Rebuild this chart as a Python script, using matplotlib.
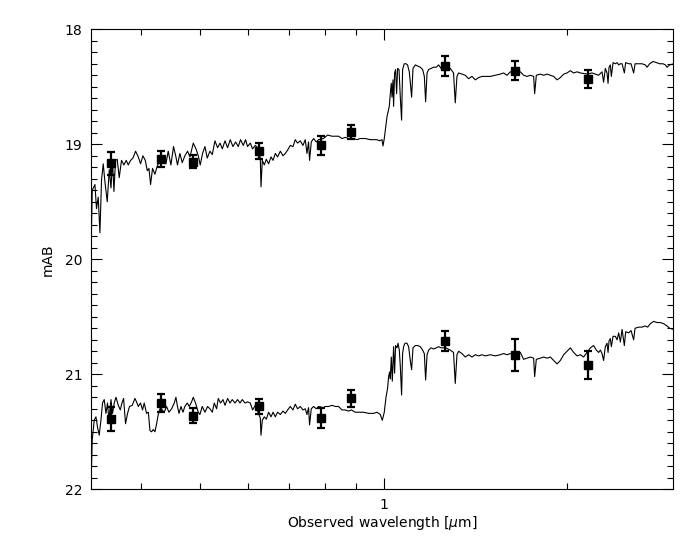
import matplotlib
matplotlib.use('Agg')
import matplotlib.pyplot as plt
from matplotlib.ticker import MultipleLocator, LogLocator, NullFormatter, FixedLocator, FixedFormatter

# Photometric points (wavelength in micron, AB mag, 1-sigma error)
phot_wl = [0.357, 0.431, 0.486, 0.625, 0.790, 0.885, 1.263, 1.645, 2.163]
top_phot = [19.165, 19.13, 19.15, 19.06, 19.01, 18.89, 18.32, 18.36, 18.43]
top_err = [0.10, 0.07, 0.06, 0.07, 0.08, 0.06, 0.09, 0.08, 0.08]
bot_phot = [21.39, 21.25, 21.36, 21.28, 21.38, 21.21, 20.71, 20.83, 20.92]
bot_err = [0.105, 0.075, 0.065, 0.065, 0.09, 0.075, 0.085, 0.14, 0.12]

# Best-fit template of the upper object
top_wl = [
    0.3308, 0.3324, 0.3358, 0.3378, 0.3400, 0.3422, 0.3443, 0.3465, 0.3488, 0.3518,
    0.3545, 0.3568, 0.3589, 0.3608, 0.3630, 0.3653, 0.3681, 0.3713, 0.3747, 0.3780,
    0.3809, 0.3843, 0.3877, 0.3916, 0.3956, 0.3990, 0.4026, 0.4062, 0.4093, 0.4119,
    0.4144, 0.4175, 0.4213, 0.4255, 0.4298, 0.4347, 0.4392, 0.4430, 0.4475, 0.4520,
    0.4561, 0.4588, 0.4630, 0.4671, 0.4718, 0.4766, 0.4809, 0.4870, 0.4920, 0.4963,
    0.5000, 0.5044, 0.5090, 0.5134, 0.5187, 0.5233, 0.5286, 0.5339, 0.5388, 0.5435,
    0.5491, 0.5545, 0.5601, 0.5658, 0.5715, 0.5773, 0.5823, 0.5883, 0.5935, 0.5979,
    0.6041, 0.6094, 0.6157, 0.6211, 0.6274, 0.6291, 0.6322, 0.6370, 0.6419, 0.6475,
    0.6534, 0.6584, 0.6641, 0.6699, 0.6768, 0.6837, 0.6897, 0.6958, 0.7028, 0.7100,
    0.7161, 0.7224, 0.7298, 0.7373, 0.7437, 0.7485, 0.7530, 0.7559, 0.7608, 0.7675,
    0.7753, 0.7821, 0.7970, 0.8091, 0.8228, 0.8332, 0.8435, 0.8545, 0.8651, 0.8760,
    0.8928, 0.9044, 0.9157, 0.9332, 0.9510, 0.9629, 0.9754, 0.9849, 0.9940, 0.9977,
    1.0026, 1.0091, 1.0130, 1.0168, 1.0218, 1.0257, 1.0295, 1.0323, 1.0362, 1.0385,
    1.0425, 1.0464, 1.0504, 1.0544, 1.0600, 1.0652, 1.0704, 1.0745, 1.0813, 1.0884,
    1.0949, 1.1020, 1.1062, 1.1117, 1.1176, 1.1275, 1.1373, 1.1489, 1.1590, 1.1665,
    1.1722, 1.1785, 1.1856, 1.1964, 1.2082, 1.2206, 1.2312, 1.2425, 1.2650, 1.2865,
    1.3026, 1.3111, 1.3196, 1.3278, 1.3448, 1.3618, 1.3789, 1.3968, 1.4144, 1.4322,
    1.4507, 1.4689, 1.4969, 1.5255, 1.5546, 1.5741, 1.5946, 1.6145, 1.6350, 1.6558,
    1.6769, 1.6980, 1.7200, 1.7416, 1.7634, 1.7701, 1.7813, 1.8086, 1.8313, 1.8550,
    1.8783, 1.9019, 1.9265, 1.9506, 1.9755, 2.0007, 2.0259, 2.0512, 2.0778, 2.1038,
    2.1600, 2.1987, 2.2262, 2.2542, 2.2835, 2.2972, 2.3121, 2.3271, 2.3362, 2.3449,
    2.3563, 2.3655, 2.3808, 2.4017, 2.4172, 2.4318, 2.4475, 2.4634, 2.4845, 2.4971,
    2.5254, 2.5482, 2.5735, 2.5872, 2.6224, 2.6564, 2.6897, 2.7071, 2.7340, 2.7695,
    2.8042, 2.8393, 2.8762, 2.9015, 2.9202, 2.9486, 2.9937,
]
top_mag = [
    19.98, 19.40, 19.35, 19.56, 19.46, 19.77, 19.31, 19.17, 19.33, 19.50,
    19.22, 19.38, 19.14, 19.41, 19.14, 19.13, 19.29, 19.14, 19.18, 19.14,
    19.18, 19.14, 19.12, 19.06, 19.11, 19.17, 19.10, 19.14, 19.23, 19.21,
    19.35, 19.21, 19.26, 19.18, 19.15, 19.13, 19.17, 19.06, 19.18, 19.02,
    19.11, 19.18, 19.08, 19.16, 19.10, 19.06, 19.11, 18.99, 19.04, 19.10,
    19.18, 19.08, 19.02, 19.12, 19.06, 19.09, 18.97, 19.03, 18.99, 19.04,
    18.97, 19.03, 18.96, 19.02, 18.98, 19.02, 18.96, 19.01, 18.96, 19.02,
    18.99, 19.04, 19.01, 19.03, 19.12, 19.37, 19.14, 19.18, 19.13, 19.17,
    19.11, 19.14, 19.08, 19.11, 19.06, 19.10, 19.08, 19.05, 19.01, 19.02,
    18.96, 18.99, 18.97, 19.01, 18.96, 19.08, 18.98, 19.14, 18.98, 18.95,
    18.98, 18.96, 18.95, 18.92, 18.93, 18.93, 18.93, 18.95, 18.94, 18.95,
    18.95, 18.96, 18.95, 18.95, 18.96, 18.96, 18.96, 18.97, 18.96, 19.015,
    18.95, 18.83, 18.76, 18.72, 18.67, 18.56, 18.47, 18.59, 18.44, 18.67,
    18.38, 18.35, 18.56, 18.34, 18.35, 18.59, 18.79, 18.35, 18.30, 18.30,
    18.31, 18.37, 18.46, 18.59, 18.34, 18.31, 18.32, 18.33, 18.35, 18.41,
    18.63, 18.38, 18.35, 18.34, 18.33, 18.33, 18.31, 18.34, 18.33, 18.34,
    18.38, 18.64, 18.41, 18.38, 18.39, 18.40, 18.43, 18.41, 18.44, 18.42,
    18.41, 18.41, 18.41, 18.40, 18.39, 18.38, 18.40, 18.37, 18.38, 18.38,
    18.37, 18.40, 18.41, 18.40, 18.41, 18.56, 18.40, 18.39, 18.40, 18.39,
    18.40, 18.41, 18.44, 18.42, 18.39, 18.38, 18.36, 18.38, 18.37, 18.38,
    18.39, 18.38, 18.39, 18.40, 18.37, 18.46, 18.34, 18.38, 18.47, 18.33,
    18.31, 18.41, 18.29, 18.30, 18.29, 18.31, 18.30, 18.30, 18.38, 18.29,
    18.30, 18.30, 18.38, 18.30, 18.30, 18.30, 18.31, 18.33, 18.30, 18.28,
    18.29, 18.30, 18.30, 18.31, 18.33, 18.31, 18.30,
]

# Best-fit template of the lower object
bot_wl = [
    0.3308, 0.3324, 0.3349, 0.3371, 0.3391, 0.3413, 0.3435, 0.3456, 0.3478, 0.3501,
    0.3522, 0.3540, 0.3568, 0.3589, 0.3612, 0.3636, 0.3668, 0.3696, 0.3719, 0.3742,
    0.3770, 0.3799, 0.3827, 0.3867, 0.3906, 0.3930, 0.3956, 0.3990, 0.4020, 0.4046,
    0.4082, 0.4109, 0.4135, 0.4160, 0.4187, 0.4213, 0.4240, 0.4266, 0.4294, 0.4331,
    0.4364, 0.4402, 0.4442, 0.4487, 0.4532, 0.4561, 0.4588, 0.4614, 0.4649, 0.4684,
    0.4718, 0.4761, 0.4797, 0.4839, 0.4870, 0.4912, 0.4963, 0.4994, 0.5038, 0.5090,
    0.5140, 0.5187, 0.5233, 0.5272, 0.5319, 0.5353, 0.5400, 0.5449, 0.5491, 0.5545,
    0.5595, 0.5644, 0.5702, 0.5759, 0.5811, 0.5861, 0.5921, 0.5979, 0.6041, 0.6094,
    0.6157, 0.6274, 0.6291, 0.6322, 0.6370, 0.6419, 0.6475, 0.6534, 0.6584, 0.6641,
    0.6699, 0.6768, 0.6837, 0.6897, 0.6958, 0.7028, 0.7100, 0.7161, 0.7224, 0.7298,
    0.7373, 0.7437, 0.7485, 0.7530, 0.7559, 0.7608, 0.7675, 0.7753, 0.7821, 0.7970,
    0.8021, 0.8123, 0.8228, 0.8332, 0.8435, 0.8545, 0.8651, 0.8760, 0.8850, 0.8986,
    0.9096, 0.9272, 0.9449, 0.9629, 0.9754, 0.9876, 0.9951, 1.0026, 1.0091, 1.0153,
    1.0191, 1.0229, 1.0257, 1.0295, 1.0335, 1.0385, 1.0425, 1.0464, 1.0520, 1.0560,
    1.0612, 1.0652, 1.0704, 1.0745, 1.0785, 1.0843, 1.0925, 1.0992, 1.1062, 1.1117,
    1.1176, 1.1275, 1.1373, 1.1489, 1.1590, 1.1665, 1.1722, 1.1785, 1.1856, 1.1964,
    1.2082, 1.2206, 1.2312, 1.2425, 1.2650, 1.2865, 1.3026, 1.3111, 1.3196, 1.3278,
    1.3448, 1.3618, 1.3789, 1.3968, 1.4144, 1.4322, 1.4507, 1.4689, 1.4969, 1.5255,
    1.5546, 1.5741, 1.5946, 1.6145, 1.6350, 1.6558, 1.6769, 1.6980, 1.7200, 1.7416,
    1.7634, 1.7701, 1.7813, 1.8086, 1.8313, 1.8550, 1.8783, 1.9019, 1.9265, 1.9506,
    1.9755, 2.0007, 2.0259, 2.0512, 2.0778, 2.1038, 2.1300, 2.1852, 2.2120, 2.2350,
    2.2542, 2.2695, 2.2835, 2.2972, 2.3121, 2.3271, 2.3362, 2.3449, 2.3563, 2.3655,
    2.3808, 2.4017, 2.4172, 2.4318, 2.4475, 2.4634, 2.4845, 2.4971, 2.5254, 2.5482,
    2.5735, 2.5872, 2.6224, 2.6564, 2.6897, 2.7134, 2.7414, 2.7754, 2.8113, 2.8468,
    2.8828, 2.9202, 2.9486, 2.9937,
]
bot_mag = [
    21.99, 21.57, 21.40, 21.37, 21.46, 21.53, 21.40, 21.25, 21.22, 21.34,
    21.25, 21.40, 21.22, 21.34, 21.25, 21.20, 21.27, 21.31, 21.25, 21.21,
    21.43, 21.34, 21.28, 21.27, 21.21, 21.24, 21.28, 21.25, 21.31, 21.25,
    21.34, 21.33, 21.49, 21.50, 21.48, 21.50, 21.43, 21.35, 21.30, 21.31,
    21.33, 21.28, 21.33, 21.30, 21.25, 21.20, 21.28, 21.34, 21.28, 21.33,
    21.28, 21.25, 21.28, 21.24, 21.20, 21.25, 21.33, 21.35, 21.28, 21.33,
    21.28, 21.30, 21.33, 21.25, 21.30, 21.21, 21.25, 21.22, 21.27, 21.21,
    21.25, 21.22, 21.25, 21.22, 21.25, 21.22, 21.25, 21.24, 21.25, 21.31,
    21.27, 21.38, 21.53, 21.40, 21.37, 21.39, 21.33, 21.37, 21.33, 21.37,
    21.33, 21.35, 21.32, 21.34, 21.31, 21.28, 21.31, 21.26, 21.30, 21.28,
    21.31, 21.30, 21.35, 21.29, 21.44, 21.30, 21.28, 21.30, 21.28, 21.29,
    21.28, 21.28, 21.27, 21.28, 21.28, 21.31, 21.31, 21.32, 21.31, 21.33,
    21.33, 21.33, 21.34, 21.34, 21.33, 21.35, 21.40, 21.33, 21.20, 21.12,
    21.02, 20.98, 21.04, 20.85, 21.06, 20.76, 20.99, 20.75, 20.77, 20.73,
    20.79, 20.93, 21.18, 20.82, 20.76, 20.73, 20.73, 20.76, 20.88, 20.96,
    20.77, 20.75, 20.75, 20.76, 20.79, 20.82, 21.05, 20.83, 20.79, 20.77,
    20.78, 20.77, 20.76, 20.77, 20.77, 20.79, 20.81, 21.08, 20.83, 20.80,
    20.82, 20.85, 20.83, 20.85, 20.83, 20.84, 20.83, 20.84, 20.83, 20.84,
    20.83, 20.82, 20.83, 20.82, 20.83, 20.82, 20.81, 20.87, 20.86, 20.85,
    20.86, 21.02, 20.87, 20.86, 20.85, 20.86, 20.85, 20.88, 20.91, 20.88,
    20.83, 20.80, 20.77, 20.81, 20.84, 20.83, 20.85, 20.77, 20.75, 20.79,
    20.81, 20.79, 20.82, 20.88, 20.76, 20.73, 20.81, 20.71, 20.69, 20.76,
    20.67, 20.67, 20.70, 20.64, 20.72, 20.61, 20.75, 20.63, 20.64, 20.62,
    20.70, 20.60, 20.59, 20.59, 20.58, 20.59, 20.56, 20.54, 20.55, 20.55,
    20.56, 20.58, 20.60, 20.61,
]


def main():

    fig = plt.figure(figsize=(7, 5.5), dpi=100)
    ax = fig.add_axes([0.1296, 0.1104, 0.8323, 0.8364])

    # Model spectra
    ax.plot(top_wl, top_mag, color='black', lw=0.8)
    ax.plot(bot_wl, bot_mag, color='black', lw=0.8)

    # Photometry with error bars
    for mag, err in ((top_phot, top_err), (bot_phot, bot_err)):
        ax.errorbar(phot_wl, mag, yerr=err, fmt='s', color='black', ms=6,
                    capsize=3, elinewidth=1.6, capthick=1.6, zorder=3)

    # Axes: log wavelength, magnitudes increasing downward
    ax.set_xscale('log')
    ax.set_xlim(0.3305, 2.99)
    ax.set_ylim(22, 18)

    ax.xaxis.set_major_locator(FixedLocator([1]))
    ax.xaxis.set_major_formatter(FixedFormatter(['1']))
    ax.xaxis.set_minor_locator(LogLocator(base=10, subs=range(2, 10)))
    ax.xaxis.set_minor_formatter(NullFormatter())
    ax.yaxis.set_major_locator(MultipleLocator(1))
    ax.yaxis.set_minor_locator(MultipleLocator(0.1))

    ax.tick_params(which='both', direction='in', top=True, right=True, labelsize=10)
    ax.tick_params(which='major', length=8, width=0.8, pad=6)
    ax.tick_params(which='minor', length=4, width=0.8)
    for spine in ax.spines.values():
        spine.set_linewidth(0.8)

    # Labels
    ax.set_xlabel(r'Observed wavelength [$\mu$m]', fontsize=10, labelpad=2)
    ax.set_ylabel('mAB', fontsize=10, labelpad=7)

    plt.savefig('out.png', dpi=100)


if __name__ == '__main__':
    main()
